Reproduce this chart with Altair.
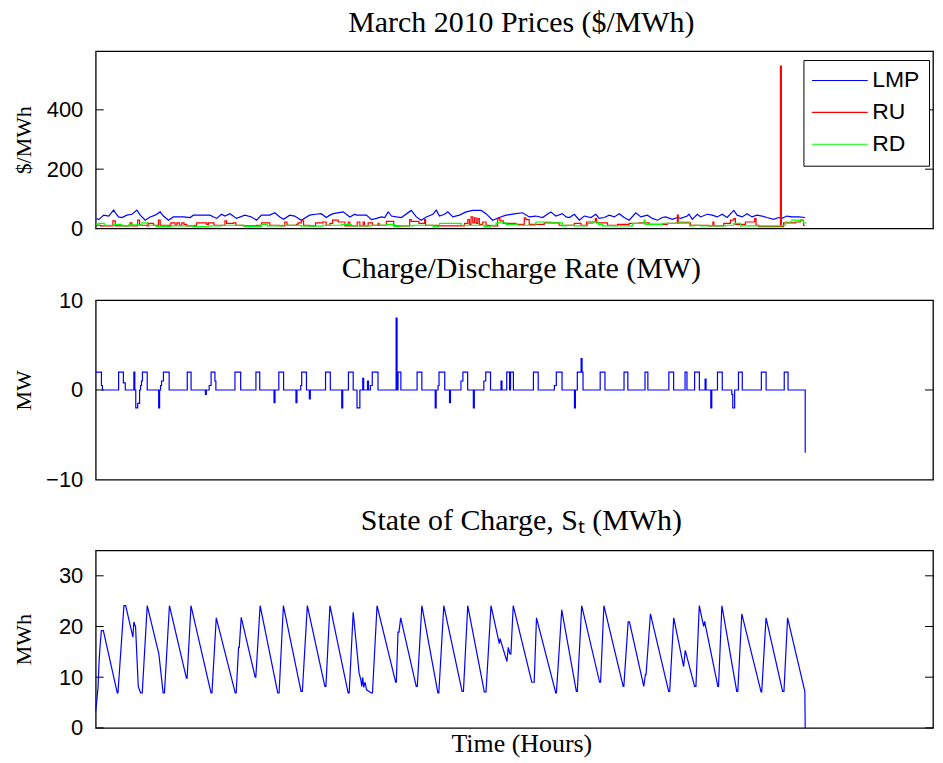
import altair as alt
import pandas as pd

# ---------------- data ----------------
# Prices ($/MWh) vs hour of March 2010
LMP_T = [0.7, 3.1, 8.4, 13.6, 18.8, 21.6, 24, 27.5, 32.7, 38, 43.2, 46.7, 51.9, 57.1, 62.3, 67.6, 71, 76.3,
         81.5, 92, 99, 102.4, 119.8, 126.8, 132, 135.5, 140.7, 147.7, 156.4, 163.4, 168.6, 173.8, 182.5,
         187.7, 193, 197.1, 203.4, 208.6, 215.6, 224.3, 230.6, 236.5, 241.7,
         245.6, 249.1, 259.5, 266.5, 271.7, 273.5, 283.9, 289.1, 294.4, 299.6, 303.1, 306.6, 307.6, 310,
         315.3, 320.5, 330.9, 336.2, 341.4, 346.6, 353.6, 357.1, 360.5, 365.8, 369.2, 374.5, 381.4, 388.4,
         395.4, 404.1, 409.3, 416.3, 423.2, 430.2, 440.6, 447.6, 454.6, 461.5, 468.5, 477.2, 482.4, 489.4,
         493.2, 496.7, 501.9, 507.1, 512.4, 519.3, 524.5, 528, 533.3, 538.5, 543.7, 549, 554.2, 559.4,
         566.3, 571.6, 578.5, 583.8, 589, 594.2, 597.7, 604.7, 609.9, 613.4, 620.3, 622.1, 625.6, 630.8,
         634.3, 641.2, 646.5, 651.7, 656.9, 662.1, 669.1, 672.6, 677.8, 683, 688.2, 693.5, 698.7, 703.9,
         710.9, 716.1, 719.6, 724.8, 730, 737, 744]
LMP_V = [34, 30, 45, 42, 62, 48, 39, 37, 45, 48, 62, 45, 28, 39, 45, 56, 42, 28,
         39, 39, 37, 45, 45, 34, 48, 42, 50, 34, 45, 39, 28, 45, 45,
         53, 39, 31, 45, 42, 28, 45, 48, 50, 37,
         45, 50, 56, 39, 48, 45, 45, 30, 34, 39, 37, 56, 53, 42,
         39, 37, 61, 39, 28, 39, 48, 62, 42, 48, 56, 39, 45, 56,
         61, 61, 50, 28, 37, 45, 50, 53, 39, 42, 37, 56, 42, 50,
         39, 37, 48, 28, 42, 37, 48, 34, 37, 45, 39, 50, 37, 28,
         53, 39, 45, 34, 28, 37, 39, 31, 37, 34, 42, 48, 31, 48,
         39, 48, 45, 39, 48, 37, 61, 45, 39, 50, 39, 45, 42, 37,
         31, 37, 34, 42, 39, 39, 37]

RU_T = [0, 5, 18, 20.5, 36, 38, 44, 46, 53.6, 55.4, 60.6, 65.8, 67.6, 77.3, 78.7, 83.2, 85, 87.8, 90.2,
        92.6, 95.4, 104.1, 105.9, 116.3, 118.1, 124, 135.5, 137.2, 144.2, 147, 154.6, 168.6, 173.8,
        182.5, 193, 198.2, 200.6, 210.4, 212.1, 215.6, 218, 224.3, 230.6, 238.2, 241.7,
        245.6, 248.4, 254.3, 261.3, 264.8, 266.5, 274.2, 277, 280.4, 281.8, 285.7, 290.2, 296.1, 297.1,
        304.8, 312.5, 329.2, 330.9, 338.9, 344.9, 345.9, 358.8, 386.7, 390.2, 391.9, 393.6, 395.4,
        397.1, 398.9, 400.6, 402.3, 405.8, 409.3, 412.8, 421.5, 423.9, 427.4, 440.6, 449.4, 451.1,
        454.6, 470.3, 485.9,
        493.2, 501.9, 508.9, 514.8, 523.9, 525.2, 536.7, 547.2, 559.4, 569.8, 580.3, 599.4, 609.9,
        610.9, 623.8, 643, 647.2, 648.2, 658.6, 665.6, 669.1, 670.8, 681.3, 691, 692.4, 695.2, 718,
        719, 721.3, 733.5, 738.8, 742.2, 744]
RU_V = [11, 9, 26, 9, 19, 9, 28, 11, 9, 17, 11, 28, 11, 9, 19, 11, 19, 11, 19,
        14, 9, 11, 19, 14, 19, 11, 26, 17, 19, 11, 9, 11, 19,
        11, 9, 22, 11, 14, 19, 26, 11, 9, 19, 22, 11,
        17, 28, 22, 9, 22, 9, 22, 9, 22, 9, 19, 11, 17, 11,
        24, 9, 30, 24, 17, 30, 11, 9, 17, 30, 14, 39, 19,
        36, 17, 33, 14, 22, 11, 9, 33, 26, 17, 14, 36, 30,
        14, 19, 11,
        11, 17, 11, 22, 33, 19, 11, 14, 17, 19, 14, 17, 45,
        19, 11, 9, 22, 9, 17, 28, 33, 14, 22, 33, 11, 6, 547,
        6, 19, 22, 28, 11, 11]

RD_T = [0, 3.1, 9, 19.5, 27.5, 34.5, 48.4, 54.3, 63.4, 78.7, 101.7, 118.1, 132, 156.4, 173.8, 179.7,
        195.7, 215.6, 237.5, 245.6, 257.8, 268.2, 289.1, 304.8, 313.5, 318.7, 332.7, 353.6, 360.5,
        383.2, 407.6, 414.5, 419.8, 430.2, 442.4, 461.5, 477.2, 489.4, 493.2, 501.9, 515.8, 521.1,
        527.3, 531.5, 562.9, 575, 576.1, 594.2, 611.6, 622.8, 627.3, 634.3, 660.4, 669.1, 676.1,
        719.6, 723.1, 730, 737, 742.2, 744]
RD_V = [15, 17, 11, 14, 9, 12, 19, 11, 6, 9, 6, 9, 11, 6, 14, 9,
        11, 8, 11, 11, 14, 9, 11, 14, 6, 9, 11, 6, 17,
        11, 6, 11, 19, 14, 11, 22, 19, 9, 11, 9, 17, 22,
        14, 9, 17, 28, 14, 17, 22, 9, 11, 9, 11, 17, 9,
        11, 22, 28, 26, 19, 17]

# Charge / discharge rate (MW), value holds from each time to the next
RATE_T = [0, 6, 7, 24, 29, 31, 40, 41, 42, 44, 46, 47, 48, 49, 54, 66, 67, 68, 69, 71, 77, 96, 100,
          115, 116, 119, 121, 125, 126, 146, 152, 168, 172, 187, 188, 192, 197, 210, 211, 215, 216,
          221, 224, 225, 241, 246, 258, 259, 265, 270, 274, 277, 280, 281, 285, 286, 288, 290, 296,
          315, 316, 317, 320, 337, 342, 356, 357, 359, 360, 366, 371, 372, 383, 385, 390, 396, 397,
          407, 409, 414, 425, 426, 431, 434, 435, 438, 459, 464, 481, 483, 489, 502, 503, 505, 509,
          510, 511, 529, 534, 554, 558, 576, 579, 601, 606, 618, 620, 628, 633, 639, 640, 645, 646,
          652, 657, 667, 668, 670, 674, 678, 698, 703, 722, 726, 744]
RATE_V = [2, 0.5, 0, 2, 0.8, 0, 2, 0, -2, -1.5, 0, 0.5, 1, 2, 0, -2, 0, 0.5, 1, 2, 0, 2, 0,
          -0.5, 0, 0.5, 2, 1, 0, 2, 0, 2, 0, -1.4, 0, 2, 0, -1.4, 0, 0.5, 2,
          0, -1, 0, 2, 0, -2, 0, 2, 0, -2, 0, 1.3, 0, 1, 0, 0.5, 2, 0,
          8, 0, 2, 0, 2, 0, -2, 0, 0.5, 2, 0, -1.4, 0, 1, 2, 0, -2, 0,
          1, 2, 0, 1, 0, 2, 0, 2, 0, 2, 0, 0.5, 2, 0, -2, 0, 2, 3.5,
          2, 0, 2, 0, 2, 0, 2, 0, 2, 0, 2, 0, 2, 0, 1.2, 0, -2, 0,
          2, 0, -0.5, -2, 0, 2, 0, 2, 0, 2, 0, -7]

# State of charge (MWh)
SOC_T = [0, 2.4, 3.5, 4.5, 5.9, 8, 22.6, 23.3, 29.6, 31.4, 39, 40, 41.8, 44.6, 47, 48.8, 54, 66.2,
         70.7, 72.1, 77.3, 95.1, 95.8, 99.9, 120.9, 121.9, 126.4, 146.3, 147.3, 149.8, 150.5, 152.6,
         167.2, 167.9, 172.4, 190.9, 192.3, 196.8, 215.3, 216.7, 221.9, 240.3, 241.4, 245.6, 264.7,
         265.8, 270, 276.2, 278, 279, 280, 281, 282.5, 284, 289.1, 290.2, 295, 314.5, 315.2, 317, 318,
         319.8, 336.1, 337.2, 342, 358.8, 359.8, 365, 384.2, 385.6, 390.1, 407.5, 409.3, 414.5, 423.2,
         424, 431.2, 432.6, 434.3, 435.4, 437.8, 457.3, 459.8, 462.2, 482.4, 483.1, 488.7, 504, 505,
         509.6, 528.4, 529.4, 532.9, 553.1, 553.8, 558.3, 559.7, 574.7, 576.4, 577.1, 581.7, 600.8,
         601.9, 606.1, 616.5, 618.2, 628, 629.4, 632.9, 637.5, 638.5, 652.4, 653.1, 656.6, 672.2,
         673.3, 677.5, 697.7, 698.4, 702.9, 720.3, 721.7, 725.5, 743.6, 744]
SOC_V = [3.3, 7.9, 13.0, 15.9, 19.2, 19.2, 6.9, 6.9, 24.1, 24.1, 17.9, 20.9, 19.9, 8.2, 6.9, 6.9, 24.1, 14.6,
         6.9, 6.9, 24.1, 9.8, 9.8, 24.1, 6.9, 6.9, 21.7, 6.9, 6.9, 15.9, 15.9, 21.8,
         10.0, 10.0, 24.1, 6.9, 6.9, 24.1, 7.2, 7.2, 24.1, 8.2, 8.2, 24.1, 6.9,
         6.9, 22.8, 10.8, 9.5, 8.2, 10.0, 8.0, 9.0, 7.5, 6.9, 6.9, 24.1, 9.0, 9.0, 18.9, 18.9,
         21.7, 8.2, 8.2, 24.1, 6.9, 6.9, 24.1, 7.2, 7.2, 24.1, 7.1, 7.1, 24.1, 16.6,
         17.6, 13.1, 15.9, 14.6, 14.6, 24.1, 9.0, 9.0, 21.7, 6.9, 6.9, 23.3, 7.2, 7.2,
         24.1, 9.0, 9.0, 24.1, 8.2, 8.2, 20.9, 20.9, 8.2, 10.5, 10.5, 22.5, 7.2,
         7.2, 21.7, 12.1, 15.3, 8.2, 8.2, 24.1, 20.0, 21.0, 8.2, 8.2, 24.1, 7.2,
         7.2, 22.5, 7.1, 7.1, 21.7, 7.2, 7.2, 21.7, 7.2, 0]

SERIES = ["LMP", "RU", "RD"]
SERIES_COLORS = ["#0000ff", "#ff0000", "#00ff00"]
PRICE_TICKS = [0, 200, 400]
RATE_TICKS = [-10, 0, 10]
SOC_TICKS = [0, 10, 20, 30]

# ---------------- layout / style ----------------
W = 840
H1, H2, H3 = 178, 180, 178
XMAX = 878
SERIF = "Liberation Serif"
SANS = "Liberation Sans"
TITLE_FS = 30
TITLE_DX = 7
LINE_W = 1.2

xscale = alt.Scale(domain=[0, XMAX], nice=False, zero=False)


def yaxis(title, values):
    return alt.Axis(title=title, values=values, ticks=False, domain=False, grid=False,
                    labelPadding=13, minExtent=58, maxExtent=58, titlePadding=2,
                    labelFont=SANS, labelFontSize=22, labelColor="#000",
                    titleFont=SERIF, titleFontSize=22, titleFontWeight="normal",
                    titleColor="#000")


def tick_marks(values):
    df = pd.DataFrame({"y": values})
    base = alt.Chart(df)
    left = base.mark_rule(color="black", strokeWidth=1).encode(
        x=alt.value(0), x2=alt.value(8), y=alt.Y("y:Q"))
    right = base.mark_rule(color="black", strokeWidth=1).encode(
        x=alt.value(W - 8), x2=alt.value(W), y=alt.Y("y:Q"))
    return [left, right]


def ptitle(text, offset):
    return alt.TitleParams(text, font=SERIF, fontSize=TITLE_FS, fontWeight="normal",
                           color="black", anchor="middle", frame="group", offset=offset,
                           dx=TITLE_DX)


# ---- panel 1: prices ----
lmp_df = pd.DataFrame({"t": LMP_T, "y": LMP_V, "series": "LMP"})
res_df = pd.concat([pd.DataFrame({"t": RU_T, "y": RU_V, "series": "RU"}),
                    pd.DataFrame({"t": RD_T, "y": RD_V, "series": "RD"})])

color = alt.Color("series:N",
                  scale=alt.Scale(domain=SERIES, range=SERIES_COLORS),
                  sort=SERIES,
                  legend=alt.Legend(title=None, orient="none", legendX=710, legendY=9,
                                    symbolType="M-2.8,0H2.8", symbolSize=400,
                                    symbolStrokeWidth=1.2,
                                    rowPadding=8, labelOffset=21, symbolOffset=16, padding=9,
                                    strokeColor="black", fillColor="white", cornerRadius=0,
                                    labelFont=SANS, labelFontSize=23, labelColor="black"))

yprice = alt.Y("y:Q", scale=alt.Scale(domain=[0, 598], nice=False, zero=False),
               axis=yaxis("$/MWh", PRICE_TICKS))
xnone = alt.X("t:Q", scale=xscale, axis=None)

lmp_line = alt.Chart(lmp_df).mark_line(strokeWidth=LINE_W).encode(
    x=xnone, y=yprice, color=color)
res_line = alt.Chart(res_df).mark_line(strokeWidth=LINE_W, interpolate="step-after").encode(
    x=xnone, y=alt.Y("y:Q"), color=alt.Color("series:N", sort=SERIES))

p1 = alt.layer(lmp_line, res_line, *tick_marks(PRICE_TICKS)).properties(
    width=W, height=H1, title=ptitle("March 2010 Prices ($/MWh)", 13))

# ---- panel 2: charge / discharge rate ----
rate_df = pd.DataFrame({"t": RATE_T, "y": RATE_V})
rate_line = alt.Chart(rate_df).mark_line(strokeWidth=LINE_W, color="#0000ff",
                                         interpolate="step-after").encode(
    x=xnone,
    y=alt.Y("y:Q", scale=alt.Scale(domain=[-10, 10], nice=False, zero=False),
            axis=yaxis("MW", RATE_TICKS)))
p2 = alt.layer(rate_line, *tick_marks([0])).properties(
    width=W, height=H2, title=ptitle("Charge/Discharge Rate (MW)", 5))

# ---- panel 3: state of charge ----
soc_df = pd.DataFrame({"t": SOC_T, "y": SOC_V})
soc_line = alt.Chart(soc_df).mark_line(strokeWidth=LINE_W, color="#0000ff").encode(
    x=alt.X("t:Q", scale=xscale,
            axis=alt.Axis(title="Time (Hours)", labels=False, ticks=False, domain=False,
                          grid=False, titleFont=SERIF, titleFontSize=26,
                          titleFontWeight="normal", titleColor="black", titlePadding=3,
                          titleX=W / 2 + TITLE_DX)),
    y=alt.Y("y:Q", scale=alt.Scale(domain=[0, 35], nice=False, zero=False),
            axis=yaxis("MWh", SOC_TICKS)))
p3 = alt.layer(soc_line, *tick_marks(SOC_TICKS)).properties(
    width=W, height=H3, title=ptitle("State of Charge, Sₜ (MWh)", 15))

chart = alt.vconcat(p1, p2, p3, spacing=13).resolve_scale(
    x="independent", y="independent", color="independent"
).properties(
    padding={"left": 4, "top": -2, "right": 0, "bottom": 0},
    background="white",
).configure_view(stroke="black", strokeWidth=1.3)

chart.save("out.html", embed_options={"renderer": "svg", "actions": False})
